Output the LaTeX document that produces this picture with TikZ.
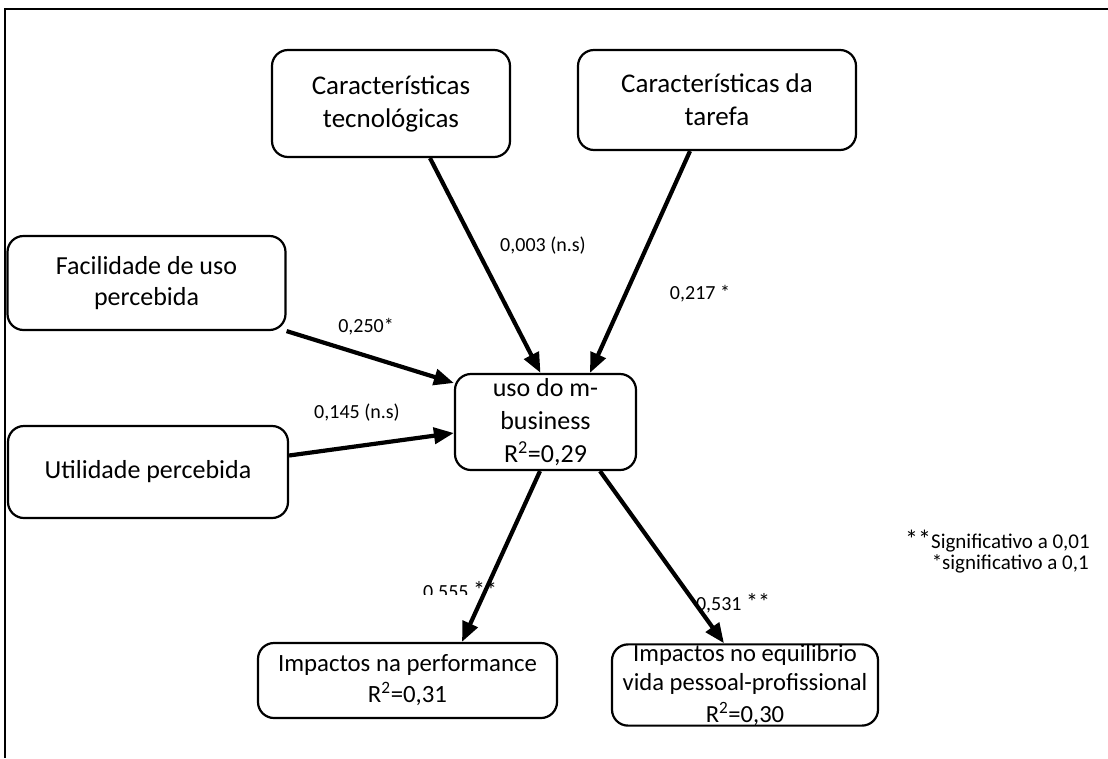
\documentclass[tikz,border=0pt]{standalone}
\usepackage{fontspec}
\setmainfont{Carlito}
\usetikzlibrary{arrows.meta}
\begin{document}
\begin{tikzpicture}[x=1pt,y=-1pt,
  box/.style={draw,line width=2.2pt,rounded corners=16pt,align=center,inner sep=0pt,
    font=\fontsize{26}{31}\selectfont},
  arr/.style={line width=4.2pt,-{Triangle[length=20pt,width=16pt]}},
  lab/.style={font=\fontsize{20}{24}\selectfont,inner sep=0pt},
  leg/.style={font=\fontsize{21}{24}\selectfont,inner sep=0pt,anchor=east}]
\useasboundingbox (0,0) rectangle (1108,758);
\draw[line width=2.5pt] (1108,9) -- (5,9) -- (5,758);

\node[box,minimum width=238pt,minimum height=107pt,font=\fontsize{27}{33}\selectfont] (tec) at (391,103.5) {Características\\tecnológicas};
\node[box,minimum width=278pt,minimum height=100pt,font=\fontsize{27}{33}\selectfont] (tar) at (717,100) {Características da\\tarefa};
\node[box,minimum width=278pt,minimum height=94pt] (fac) at (146.5,283) {Facilidade de uso\\percebida};
\node[box,minimum width=280pt,minimum height=92pt] (uti) at (148,472) {Utilidade percebida};
\node[box,minimum width=181pt,minimum height=96pt,font=\fontsize{26}{33}\selectfont] (uso) at (545.5,422) {uso do m-\\business\\R\textsuperscript{2}=0,29};
\node[box,minimum width=299pt,minimum height=75pt,font=\fontsize{24.8}{31}\selectfont] (per) at (407.5,680.5) {Impactos na performance\\R\textsuperscript{2}=0,31};
\node[box,minimum width=266pt,minimum height=74pt,font=\fontsize{24.6}{29}\selectfont] (equ) at (745,685) {Impactos no equilibrio\\vida pessoal-profissional\\[3pt]R\textsuperscript{2}=0,30};

\draw[arr] ([xshift=39pt]tec.south) -- ([xshift=-5pt]uso.north);
\draw[arr] ([xshift=-27pt]tar.south) -- ([xshift=44.5pt]uso.north);
\draw[arr] (fac.south east) -- ([yshift=39pt]uso.west);
\draw[arr] ([yshift=16.5pt]uti.east) -- ([yshift=-11pt]uso.west);
\draw[arr] ([xshift=-5.5pt]uso.south) -- ([xshift=54.5pt]per.north);
\draw[arr] ([xshift=54.5pt]uso.south) -- ([xshift=-21pt]equ.north);

\node[lab] (l1) at (543,246) {0,003 (n.s)};
\node[lab] (l2) at (700,294) {0,217 *};
\node[lab] (l3) at (366,327) {0,250*};
\node[lab] (l4) at (357,413) {0,145 (n.s)};
\begin{scope}
\clip (380,560) rectangle (520,594);
\node[lab] (l5) at (460,591) {0,555 {\fontsize{24}{24}\selectfont**}};
\end{scope}
\node[lab] (l6) at (733,603) {0,531 {\fontsize{24}{24}\selectfont**}};
\node[leg] (g1) at (1090,541) {{\fontsize{26}{26}\selectfont**}Significativo a 0,01};
\node[leg] (g2) at (1089,564) {*significativo a 0,1};
\end{tikzpicture}
\end{document}
